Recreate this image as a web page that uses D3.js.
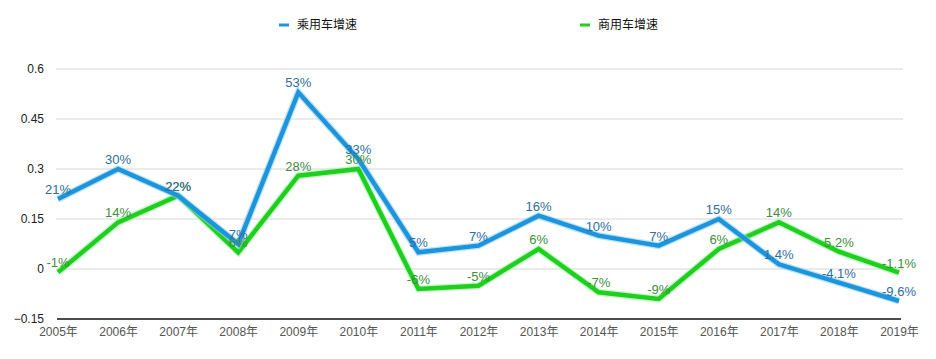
<!DOCTYPE html>
<html><head><meta charset="utf-8">
<script src="https://cdn.jsdelivr.net/npm/d3@7"></script>
<style>
html,body{margin:0;padding:0;background:#fff;}
svg{display:block;font-family:"Liberation Sans","Noto Sans CJK SC",sans-serif;}
</style></head>
<body><svg id="c" width="936" height="359"></svg>
<script>
const years = ["2005年","2006年","2007年","2008年","2009年","2010年","2011年","2012年","2013年","2014年","2015年","2016年","2017年","2018年","2019年"];
const passenger = [0.21,0.30,0.22,0.075,0.53,0.33,0.05,0.07,0.16,0.10,0.07,0.15,0.014,-0.041,-0.096];
const passengerLabels = ["21%","30%","22%","7%","53%","33%","5%","7%","16%","10%","7%","15%","1.4%","-4.1%","-9.6%"];
const commercial = [-0.01,0.14,0.22,0.05,0.28,0.30,-0.06,-0.05,0.06,-0.07,-0.09,0.06,0.14,0.052,-0.011];
const commercialLabels = ["-1%","14%","22%","6%","28%","30%","-6%","-5%","6%","-7%","-9%","6%","14%","5.2%","-1.1%"];
const yTicks = [-0.15,0,0.15,0.3,0.45,0.6];
const seriesNames = ["乘用车增速","商用车增速"];

const svg = d3.select("#c");
const x = d3.scalePoint().domain(years).range([58, 899]);
const y = d3.scaleLinear().domain([-0.15, 0.6]).range([319, 69]);

// gridlines
svg.append("g").selectAll("line").data(yTicks.filter(d => d > -0.15)).join("line")
  .attr("x1", 56).attr("x2", 903)
  .attr("y1", d => y(d)).attr("y2", d => y(d))
  .attr("stroke", "#d6d6d6").attr("stroke-width", 1);

// y axis labels
const yAxis = d3.axisLeft(y).tickValues(yTicks).tickSize(0).tickPadding(0)
  .tickFormat(d => d3.format("~g")(d));
const ya = svg.append("g").attr("transform", "translate(44,0)").call(yAxis);
ya.select(".domain").remove();
ya.selectAll("text").attr("font-size", 12).attr("fill", "#222")
  .attr("font-family", "'Liberation Sans',sans-serif");

// x axis
const xAxis = d3.axisBottom(x).tickSize(0).tickPadding(8);
const xa = svg.append("g").attr("transform", "translate(0,319)").call(xAxis);
xa.select(".domain").remove();
xa.selectAll("text").attr("font-size", 12).attr("fill", "#555")
  .attr("font-family", "'Liberation Sans','Noto Sans CJK SC',sans-serif");
svg.append("line").attr("x1", 57).attr("x2", 901).attr("y1", 319).attr("y2", 319)
  .attr("stroke", "#111").attr("stroke-width", 1.5);

const line = d3.line().x((d, i) => x(years[i])).y(d => y(d));

const series = [
  {vals: commercial, labels: commercialLabels, color: "#1fcf1f", glow: "#9ef59e", lab: "#3e8e3e"},
  {vals: passenger, labels: passengerLabels, color: "#1c95dd", glow: "#8fd0f5", lab: "#2f6d9c"}
];

series.forEach(s => {
  svg.append("path").datum(s.vals).attr("d", line).attr("fill", "none")
    .attr("stroke", s.glow).attr("stroke-width", 7).attr("stroke-opacity", 0.6)
    .attr("stroke-linejoin", "miter");
  svg.append("path").datum(s.vals).attr("d", line).attr("fill", "none")
    .attr("stroke", s.color).attr("stroke-width", 4.5).attr("stroke-linejoin", "miter");
});
series.forEach(s => {
  svg.append("g").selectAll("text").data(s.vals).join("text")
    .attr("x", (d, i) => x(years[i]))
    .attr("y", d => y(d) - 5)
    .attr("text-anchor", "middle")
    .attr("font-size", 13)
    .attr("fill", s.lab)
    .text((d, i) => s.labels[i]);
});

// legend
const legend = [
  {name: seriesNames[0], color: "#1c95dd", x: 279},
  {name: seriesNames[1], color: "#1fcf1f", x: 580}
];
const lg = svg.append("g").selectAll("g").data(legend).join("g")
  .attr("transform", d => `translate(${d.x},25)`);
lg.append("line").attr("x1", 0).attr("x2", 10).attr("y1", 0).attr("y2", 0)
  .attr("stroke", d => d.color).attr("stroke-width", 3);
lg.append("text").attr("x", 18).attr("dy", "0.35em").attr("font-size", 12)
  .attr("fill", "#111").attr("font-family", "'Noto Sans CJK SC',sans-serif")
  .text(d => d.name);
</script></body></html>
